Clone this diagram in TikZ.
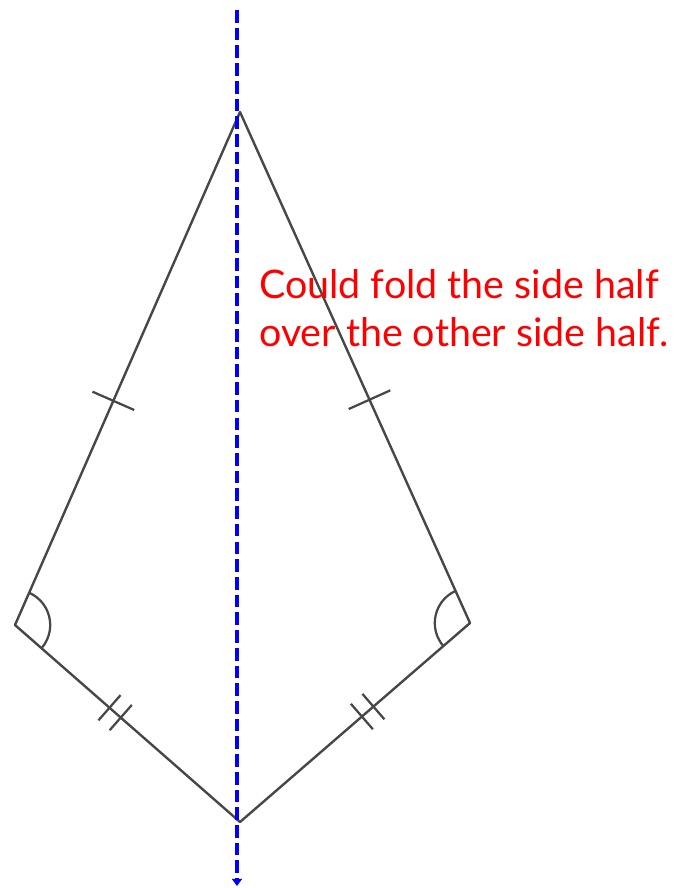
\documentclass[tikz,border=0pt]{standalone}
\usepackage{fontspec}
\usepackage{xcolor}
\setmainfont{Lato}
\usetikzlibrary{arrows.meta,positioning,calc}

\begin{document}
\begin{tikzpicture}[
  x=0.025cm, y=-0.025cm,
  side/.style={line width=1.7pt, draw=black!72, line join=round},
  tickmark/.style={line width=1.6pt, draw=black!72},
  anglemark/.style={line width=1.6pt, draw=black!72},
  foldline/.style={draw=blue, line width=2.7pt, dash pattern=on 9pt off 3.6pt, -{Triangle[length=5pt,width=7pt]}},
  note/.style={text=red, font=\fontsize{28}{34}\selectfont, align=left, inner sep=0pt}
]
\useasboundingbox (0,0) rectangle (680,888);

% kite corners
\coordinate (top) at (240,112);
\coordinate (left) at (15,625);
\coordinate (right) at (470,623);
\coordinate (bottom) at (240,822);

\draw[side] (top) -- (right) -- (bottom) -- (left) -- cycle;

% equal sides
\coordinate (tl) at ($(top)!0.563!(left)$);
\coordinate (tr) at ($(top)!0.563!(right)$);
\draw[tickmark] ($(tl)!0.57cm!90:(left)$) -- ($(tl)!0.57cm!-90:(left)$);
\draw[tickmark] ($(tr)!0.57cm!90:(right)$) -- ($(tr)!0.57cm!-90:(right)$);

\coordinate (bl1) at ($(left)!0.42!(bottom)$);
\coordinate (bl2) at ($(left)!0.47!(bottom)$);
\coordinate (br1) at ($(right)!0.42!(bottom)$);
\coordinate (br2) at ($(right)!0.47!(bottom)$);
\foreach \p/\q in {bl1/left,bl2/left,br1/right,br2/right}
  \draw[tickmark] ($(\p)!0.42cm!90:(\q)$) -- ($(\p)!0.42cm!-90:(\q)$);

% equal angles
\draw[anglemark] ([shift={(66.5:0.88cm)}]left) arc[start angle=66.5, end angle=-41.2, radius=0.88cm];
\draw[anglemark] ([shift={(114.2:0.88cm)}]right) arc[start angle=114.2, end angle=220.9, radius=0.88cm];

% line of symmetry
\coordinate (foldtop) at (237,10);
\coordinate (foldend) at (237,886);
\draw[foldline] (foldtop) -- (foldend);

\node[note, anchor=north west] (fold) at (259,269) {Could fold the side half\\over the other side half.};
\end{tikzpicture}
\end{document}
